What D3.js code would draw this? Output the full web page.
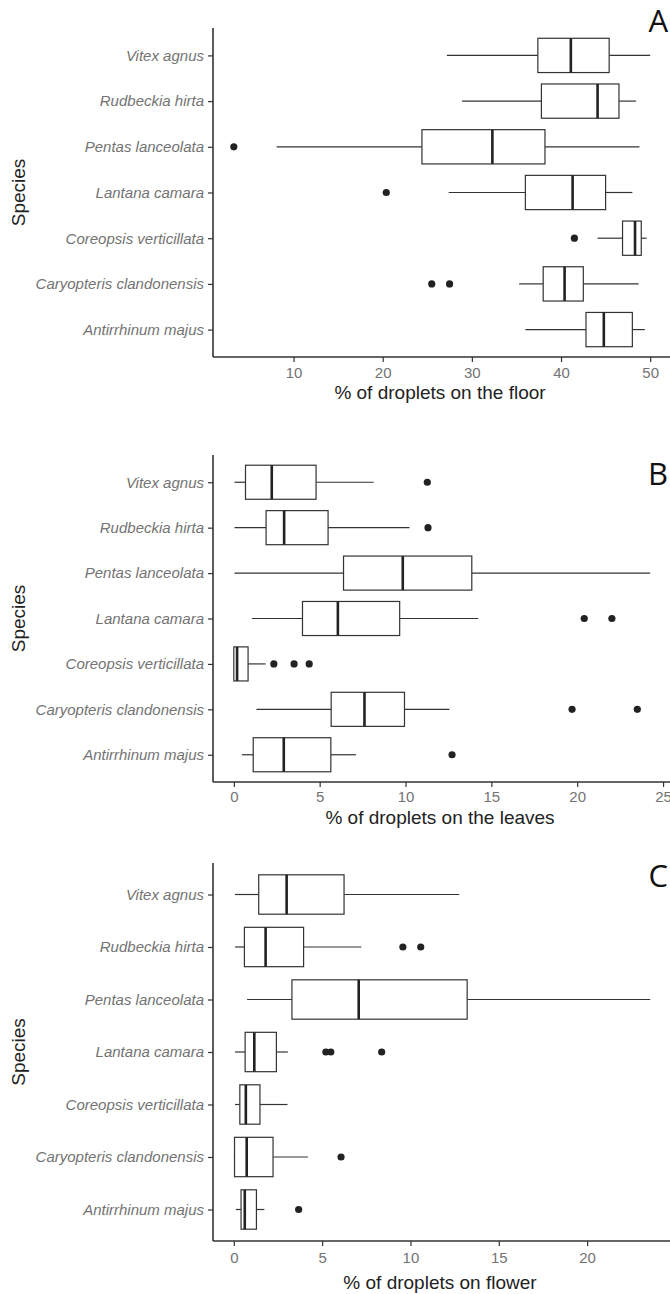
<!DOCTYPE html>
<html>
<head>
<meta charset="utf-8">
<script src="https://cdn.jsdelivr.net/npm/d3@7"></script>
<style>
  html, body { margin: 0; padding: 0; background: #fff; }
  svg { display: block; }
</style>
</head>
<body>
<svg id="chart" width="670" height="1294"></svg>
<script>
// Species, listed top to bottom as they appear on each panel
const species = [
  "Vitex agnus",
  "Rudbeckia hirta",
  "Pentas lanceolata",
  "Lantana camara",
  "Coreopsis verticillata",
  "Caryopteris clandonensis",
  "Antirrhinum majus"
];

// Box statistics per species: [lower whisker, Q1, median, Q3, upper whisker]
const floorStats = [
  [27.2, 37.4, 41.1, 45.4, 50.0],
  [28.9, 37.8, 44.1, 46.5, 48.4],
  [8.1, 24.4, 32.3, 38.2, 48.8],
  [27.4, 36.0, 41.3, 45.0, 48.0],
  [44.1, 46.9, 48.3, 49.0, 49.6],
  [35.3, 38.0, 40.4, 42.5, 48.7],
  [36.0, 42.8, 44.8, 48.0, 49.4]
];
const floorOutliers = [[], [], [3.3], [20.4], [41.5], [25.5, 27.5], []];

const leavesStats = [
  [0.04, 0.68, 2.21, 4.79, 8.15],
  [0.04, 1.88, 2.93, 5.49, 10.23],
  [0.04, 6.39, 9.84, 13.86, 24.25],
  [1.05, 4.0, 6.06, 9.66, 14.24],
  [0.0, 0.0, 0.19, 0.83, 1.85],
  [1.32, 5.67, 7.61, 9.94, 12.56],
  [0.47, 1.13, 2.91, 5.65, 7.12]
];
const leavesOutliers = [[11.27], [11.31], [], [20.41, 22.02], [2.33, 3.51, 4.39], [19.7, 23.5], [12.71]];

const flowerStats = [
  [0.07, 1.41, 2.99, 6.24, 12.76],
  [0.07, 0.60, 1.80, 3.95, 7.22],
  [0.75, 3.29, 7.07, 13.21, 23.57],
  [0.07, 0.64, 1.16, 2.41, 3.06],
  [0.07, 0.34, 0.68, 1.48, 3.04],
  [0.0, 0.04, 0.73, 2.22, 4.19],
  [0.11, 0.41, 0.62, 1.28, 1.73]
];
const flowerOutliers = [[], [9.57, 10.58], [], [5.21, 5.49, 8.37], [], [6.07], [3.67]];

const panelLetters = ["A", "B", "C"];
const xTitles = [
  "% of droplets on the floor",
  "% of droplets on the leaves",
  "% of droplets on flower"
];
const yTitle = "Species";

// Panel frames (pixel layout)
const panels = [
  { stats: floorStats,  outliers: floorOutliers,  top: 28,  bottom: 357, tickY: 373,  titleY: 392,  letterY: 32 },
  { stats: leavesStats, outliers: leavesOutliers, top: 455, bottom: 782, tickY: 797,  titleY: 817,  letterY: 485 },
  { stats: flowerStats, outliers: flowerOutliers, top: 863, bottom: 1241, tickY: 1258, titleY: 1282, letterY: 887 }
];

const left = 213, right = 671;
const svg = d3.select("#chart");
const font = "'Liberation Sans', Arial, sans-serif";

panels.forEach((p, i) => {
  const g = svg.append("g");

  // x domain: data range expanded by 5% each side
  const vals = p.stats.flat().concat(p.outliers.flat());
  const lo = d3.min(vals), hi = d3.max(vals);
  const pad = (hi - lo) * 0.05;
  const x = d3.scaleLinear().domain([lo - pad, hi + pad]).range([left, right]);

  const y = d3.scalePoint().domain(species).range([p.top, p.bottom]).padding(0.6);
  const boxH = y.step() * 0.75;

  // boxes
  const rows = g.selectAll("g.row")
    .data(species.map((s, k) => ({ s, st: p.stats[k], out: p.outliers[k] })))
    .join("g").attr("class", "row");

  rows.append("line")
    .attr("x1", d => x(d.st[0])).attr("x2", d => x(d.st[1]))
    .attr("y1", d => y(d.s)).attr("y2", d => y(d.s))
    .attr("stroke", "#333").attr("stroke-width", 1.2);
  rows.append("line")
    .attr("x1", d => x(d.st[3])).attr("x2", d => x(d.st[4]))
    .attr("y1", d => y(d.s)).attr("y2", d => y(d.s))
    .attr("stroke", "#333").attr("stroke-width", 1.2);
  rows.append("rect")
    .attr("x", d => x(d.st[1])).attr("width", d => x(d.st[3]) - x(d.st[1]))
    .attr("y", d => y(d.s) - boxH / 2).attr("height", boxH)
    .attr("fill", "#fff").attr("stroke", "#333").attr("stroke-width", 1.2);
  rows.append("line")
    .attr("x1", d => x(d.st[2])).attr("x2", d => x(d.st[2]))
    .attr("y1", d => y(d.s) - boxH / 2).attr("y2", d => y(d.s) + boxH / 2)
    .attr("stroke", "#222").attr("stroke-width", 2.6);
  rows.selectAll("circle")
    .data(d => d.out.map(v => ({ v, s: d.s })))
    .join("circle")
    .attr("cx", d => x(d.v)).attr("cy", d => y(d.s)).attr("r", 3.6)
    .attr("fill", "#222");

  // x axis
  const xAxis = g.append("g").attr("transform", `translate(0,${p.bottom})`)
    .call(d3.axisBottom(x).ticks(5).tickSize(5).tickPadding(4));
  xAxis.select(".domain").attr("d", `M${left},0H${right + 5}`).attr("stroke", "#333").attr("stroke-width", 1.6);
  xAxis.selectAll(".tick line").attr("stroke", "#333").attr("stroke-width", 1.2);
  xAxis.selectAll(".tick text").remove();
  xAxis.selectAll(".tick").append("text")
    .attr("y", p.tickY - p.bottom).attr("dy", "0.35em")
    .attr("text-anchor", "middle")
    .attr("fill", "#737373").attr("font-family", font).attr("font-size", 15)
    .text(d => d);

  // y axis
  const yAxis = g.append("g").attr("transform", `translate(${left},0)`)
    .call(d3.axisLeft(y).tickSize(5).tickPadding(4));
  yAxis.select(".domain").attr("d", `M0,${p.top}V${p.bottom}`).attr("stroke", "#333").attr("stroke-width", 1.6);
  yAxis.selectAll(".tick line").attr("stroke", "#333").attr("stroke-width", 1.2);
  yAxis.selectAll(".tick text")
    .attr("fill", "#737373").attr("font-family", font).attr("font-size", 15)
    .attr("font-style", "italic");

  // titles
  g.append("text")
    .attr("x", (left + right) / 2 - 2).attr("y", p.titleY).attr("dy", "0.35em")
    .attr("text-anchor", "middle").attr("fill", "#222")
    .attr("font-family", font).attr("font-size", 19)
    .text(xTitles[i]);
  g.append("text")
    .attr("transform", `translate(18,${(p.top + p.bottom) / 2}) rotate(-90)`)
    .attr("dy", "0.35em")
    .attr("text-anchor", "middle").attr("fill", "#222")
    .attr("font-family", font).attr("font-size", 19)
    .text(yTitle);

  // panel letter
  g.append("text")
    .attr("x", 668).attr("y", p.letterY)
    .attr("text-anchor", "end").attr("fill", "#111")
    .attr("font-family", "'Open Sans', 'Noto Sans', sans-serif").attr("font-size", 31)
    .text(panelLetters[i]);
});
</script>
</body>
</html>
